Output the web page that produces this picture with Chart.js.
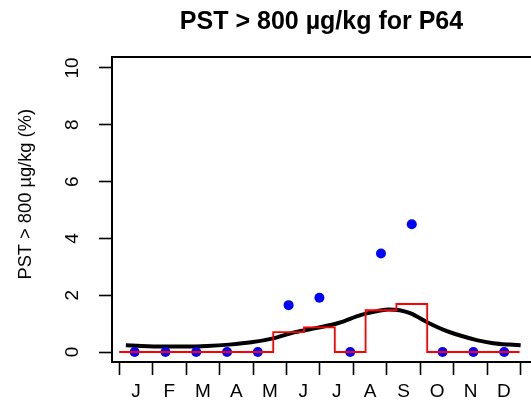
<!DOCTYPE html>
<html>
<head>
<meta charset="utf-8">
<script src="https://cdn.jsdelivr.net/npm/chart.js@4/dist/chart.umd.min.js"></script>
<style>
  html, body { margin: 0; padding: 0; background: #fff; overflow: hidden; }
  canvas { display: block; }
</style>
</head>
<body>
<canvas id="chart" width="531" height="407"></canvas>
<script>
// Month initials and the day positions of month edges / month centres
const monthLabels = ['J', 'F', 'M', 'A', 'M', 'J', 'J', 'A', 'S', 'O', 'N', 'D'];
const monthEdges = [0, 30.4, 60.8, 91.3, 121.7, 152.1, 182.5, 212.9, 243.3, 273.8, 304.2, 334.6, 365];
const monthCentres = [15.2, 45.6, 76.0, 106.5, 136.9, 167.3, 197.7, 228.1, 258.5, 289.0, 319.4, 349.8];

// Thirteen four-week periods (day of year)
const periodStarts = [0, 28, 56, 84, 112, 140, 168, 196, 224, 252, 280, 308, 336];
const periodMids = [14, 42, 70, 98, 126, 154, 182, 210, 238, 266, 294, 322, 350];
const periodEnd = 364;

// Observed percentage per period (blue dots)
const observedPct = [0, 0, 0, 0, 0, 1.65, 1.91, 0, 3.47, 4.50, 0, 0, 0];
// Period estimate (red steps)
const periodPct = [0, 0, 0, 0, 0, 0.70, 0.87, 0, 1.47, 1.69, 0, 0, 0];
// Seasonal smooth (black curve)
const smoothDays = [6, 20, 40, 60, 80, 100, 120, 140, 160, 180, 200, 220, 235, 245, 255, 265, 280, 295, 310, 325, 340, 355, 365];
const smoothPct = [0.24, 0.21, 0.19, 0.19, 0.21, 0.26, 0.34, 0.48, 0.70, 0.85, 1.03, 1.31, 1.44, 1.50, 1.47, 1.36, 1.05, 0.78, 0.58, 0.42, 0.31, 0.26, 0.24];

const yTicks = [0, 2, 4, 6, 8, 10];

const FONT = 'Liberation Sans, Arial, Helvetica, sans-serif';

// step line needs the last value repeated at the end of the year
const stepPoints = periodStarts.map((d, i) => ({ x: d, y: periodPct[i] }));
stepPoints.push({ x: periodEnd, y: periodPct[periodPct.length - 1] });

// draw the top edge of the plot box
const boxTop = {
    id: 'boxTop',
    afterDraw(chart) {
        const { ctx, chartArea } = chart;
        ctx.save();
        ctx.strokeStyle = '#000';
        ctx.lineWidth = 2;
        ctx.beginPath();
        ctx.moveTo(chartArea.left - 1, chartArea.top);
        ctx.lineTo(chartArea.right, chartArea.top);
        ctx.stroke();
        ctx.restore();
    }
};

// keep the plot box exactly where the axes put it
function noPadding(scale) {
    scale.paddingLeft = 0;
    scale.paddingRight = 0;
    scale.paddingTop = 0;
    scale.paddingBottom = 0;
}

new Chart(document.getElementById('chart').getContext('2d'), {
    type: 'scatter',
    data: {
        datasets: [
            {
                label: 'period',
                data: stepPoints,
                showLine: true,
                stepped: 'before',
                borderColor: '#ff0000',
                borderWidth: 1.8,
                pointRadius: 0,
                order: 0
            },
            {
                label: 'observed',
                data: periodMids.map((d, i) => ({ x: d, y: observedPct[i] })),
                showLine: false,
                pointRadius: 5,
                pointBackgroundColor: '#0000ff',
                pointBorderColor: '#0000ff',
                pointBorderWidth: 0,
                order: 1
            },
            {
                label: 'smooth',
                data: smoothDays.map((d, i) => ({ x: d, y: smoothPct[i] })),
                showLine: true,
                cubicInterpolationMode: 'monotone',
                borderColor: '#000',
                borderWidth: 4,
                pointRadius: 0,
                order: 2
            }
        ]
    },
    options: {
        responsive: false,
        animation: false,
        devicePixelRatio: 1,
        layout: { padding: 0, autoPadding: false },
        plugins: {
            legend: { display: false },
            tooltip: { enabled: false },
            title: {
                display: true,
                text: 'PST > 800 µg/kg for P64',
                color: '#000',
                fullSize: false,
                font: { family: FONT, size: 25, weight: 'bold' },
                padding: { top: 7, bottom: 20 }
            }
        },
        scales: {
            x: {
                type: 'linear',
                min: -6.6,
                max: 374.4,
                afterBuildTicks(scale) {
                    // month edges carry tick marks, month centres carry the letters
                    const ticks = [];
                    monthEdges.forEach((d, i) => {
                        ticks.push({ value: d });
                        if (i < monthCentres.length) ticks.push({ value: monthCentres[i] });
                    });
                    scale.ticks = ticks;
                },
                afterFit(scale) {
                    scale.height = 45;
                    noPadding(scale);
                },
                grid: {
                    display: true,
                    drawOnChartArea: false,
                    drawTicks: true,
                    tickLength: 13,
                    tickWidth: 1.6,
                    tickColor: ctx => (ctx.index % 2 === 0 ? '#000' : 'rgba(0,0,0,0)')
                },
                border: { display: true, color: '#000', width: 2 },
                ticks: {
                    autoSkip: false,
                    maxRotation: 0,
                    minRotation: 0,
                    padding: 5,
                    color: '#000',
                    font: { family: FONT, size: 19 },
                    callback: (v, i) => (i % 2 === 1 ? monthLabels[(i - 1) / 2] : '')
                }
            },
            y: {
                type: 'linear',
                min: -0.352,
                max: 10.387,
                afterBuildTicks(scale) {
                    scale.ticks = yTicks.map(v => ({ value: v }));
                },
                afterFit(scale) {
                    scale.width = 112;
                    noPadding(scale);
                },
                grid: {
                    display: true,
                    drawOnChartArea: false,
                    drawTicks: true,
                    tickLength: 13,
                    tickWidth: 1.6,
                    tickColor: '#000'
                },
                border: { display: true, color: '#000', width: 2 },
                ticks: {
                    minRotation: 90,
                    maxRotation: 90,
                    crossAlign: 'center',
                    padding: 16,
                    color: '#000',
                    font: { family: FONT, size: 19 }
                },
                title: {
                    display: true,
                    // leading spaces lift the centred label a little along the axis
                    text: '      PST > 800 µg/kg (%)',
                    color: '#000',
                    font: { family: FONT, size: 18.3 },
                    padding: { top: 15, bottom: 0 }
                }
            }
        }
    },
    plugins: [boxTop]
});
</script>
</body>
</html>
